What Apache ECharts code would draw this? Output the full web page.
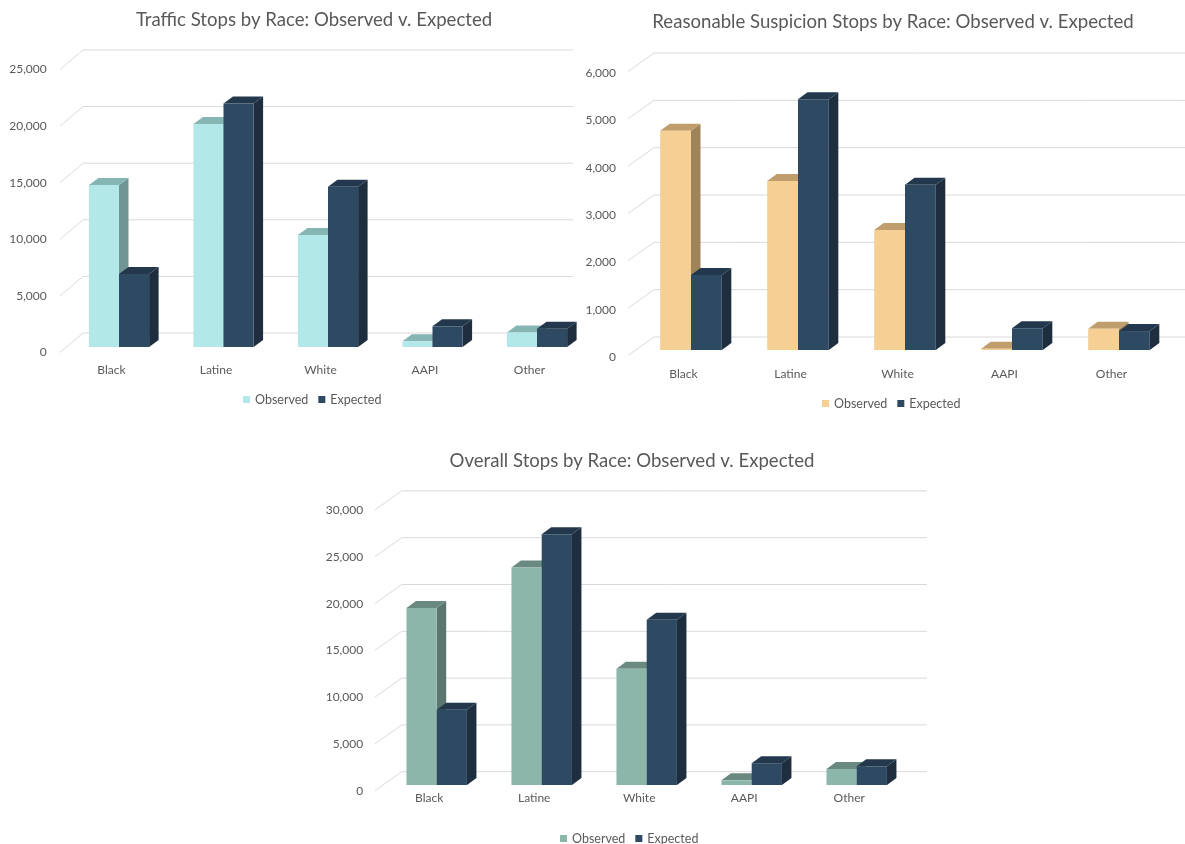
<!DOCTYPE html>
<html>
<head>
<meta charset="utf-8">
<title>Stops by Race: Observed v. Expected</title>
<script src="https://cdn.jsdelivr.net/npm/echarts@6/dist/echarts.min.js"></script>
<style>
  html, body { margin: 0; padding: 0; background: #ffffff; }
  body { width: 1185px; height: 844px; position: relative; overflow: hidden; }
  .chart { position: absolute; left: 0; top: 0; width: 1185px; height: 844px; }
</style>
</head>
<body>
<div id="traffic" class="chart"></div>
<div id="suspicion" class="chart"></div>
<div id="overall" class="chart"></div>
<script>
// ---- data ----
const categories = ['Black', 'Latine', 'White', 'AAPI', 'Other'];
const seriesNames = ['Observed', 'Expected'];

const trafficObserved = [14300, 19700, 9900, 500, 1270];
const trafficExpected = [6450, 21500, 14150, 1830, 1620];
const trafficTicks = [0, 5000, 10000, 15000, 20000, 25000];

const suspicionObserved = [4630, 3570, 2535, 25, 450];
const suspicionExpected = [1585, 5300, 3490, 460, 400];
const suspicionTicks = [0, 1000, 2000, 3000, 4000, 5000, 6000];

const overallObserved = [18900, 23250, 12430, 500, 1710];
const overallExpected = [8040, 26800, 17650, 2330, 2000];
const overallTicks = [0, 5000, 10000, 15000, 20000, 25000, 30000];

// ---- drawing ----
const TEXT = '#595959';
const GRID_LINE = '#d9d9d9';
const FONT = 'Lato';
const BAR_RATIO = 0.288;   // bar width as a share of the category band
const DEPTH_X = 9.5;       // 3D depth of the columns
const DEPTH_Y = 7;

const expectedFaces = { front: '#2e4a62', top: '#23384c', side: '#1e2e3e' };

// floor/back-wall lines: diagonal from the front label to the back wall, then along the wall
function wallSeries(ticks, wall) {
  return {
    type: 'custom',
    silent: true,
    z: 1,
    encode: { x: 0, y: 1 },
    data: ticks.map(t => [0, t]),
    renderItem: function (params, api) {
      const cs = params.coordSys;
      const y = api.coord([0, api.value(1)])[1];
      const frontX = cs.x + wall.frontDx;
      const backX = cs.x + wall.backDx;
      const rightX = cs.x + cs.width + wall.rightDx;
      const style = { stroke: GRID_LINE, lineWidth: 1, fill: null };
      return {
        type: 'group',
        children: [
          { type: 'line', shape: { x1: frontX, y1: y + wall.frontDy, x2: backX, y2: y + wall.backDy }, style: style },
          { type: 'line', shape: { x1: backX, y1: y + wall.backDy, x2: rightX, y2: y + wall.backDy }, style: style }
        ]
      };
    }
  };
}

// one 3D column per category: front face, top face and right side face
function barSeries(name, values, faces, slot) {
  return {
    type: 'custom',
    name: name,
    z: 2 + slot,
    encode: { x: 0, y: 1 },
    itemStyle: { color: faces.front },
    data: values.map((v, i) => [i, v]),
    renderItem: function (params, api) {
      const cat = api.value(0);
      const base = api.coord([cat, 0]);
      const top = api.coord([cat, api.value(1)]);
      const w = api.size([1, 0])[0] * BAR_RATIO;
      const x0 = slot === 0 ? base[0] - w : base[0];
      const x1 = x0 + w;
      const yb = base[1];
      const yt = top[1];
      return {
        type: 'group',
        children: [
          { type: 'polygon', shape: { points: [[x1, yt], [x1 + DEPTH_X, yt - DEPTH_Y], [x1 + DEPTH_X, yb - DEPTH_Y], [x1, yb]] },
            style: { fill: faces.side } },
          { type: 'polygon', shape: { points: [[x0, yt], [x0 + DEPTH_X, yt - DEPTH_Y], [x1 + DEPTH_X, yt - DEPTH_Y], [x1, yt]] },
            style: { fill: faces.top } },
          { type: 'rect', shape: { x: x0, y: yt, width: w, height: yb - yt },
            style: { fill: faces.front } }
        ]
      };
    }
  };
}

function buildOption(c) {
  return {
    animation: false,
    textStyle: { fontFamily: FONT },
    title: {
      text: c.title,
      left: c.titleX, top: c.titleTop, textAlign: 'center',
      textStyle: { fontFamily: FONT, fontSize: 18.6, fontWeight: 'normal', color: TEXT }
    },
    legend: {
      data: seriesNames,
      left: c.legendLeft, top: c.legendTop, padding: 0,
      icon: 'rect', itemWidth: 7, itemHeight: 7, itemGap: 10,
      selectedMode: false,
      textStyle: { fontFamily: FONT, fontSize: 12.5, color: TEXT }
    },
    grid: { left: c.grid.left, top: c.grid.top, width: c.grid.width, height: c.grid.height },
    xAxis: {
      type: 'category',
      data: categories,
      axisLine: { show: false }, axisTick: { show: false }, splitLine: { show: false },
      axisLabel: { margin: c.xLabelMargin, padding: [0, 15, 0, 0], color: TEXT, fontFamily: FONT, fontSize: 12 }
    },
    yAxis: {
      type: 'value',
      min: 0, max: c.ticks[c.ticks.length - 1], interval: c.ticks[1] - c.ticks[0],
      axisLine: { show: false }, axisTick: { show: false }, splitLine: { show: false },
      axisLabel: {
        margin: c.yLabelMargin,
        verticalAlign: 'top', lineHeight: c.yLabelLine,
        color: TEXT, fontFamily: FONT, fontSize: 12,
        formatter: v => v.toLocaleString('en-US')
      }
    },
    series: [
      wallSeries(c.ticks, c.wall),
      barSeries(seriesNames[0], c.observed, c.observedFaces, 0),
      barSeries(seriesNames[1], c.expected, expectedFaces, 1)
    ]
  };
}

const charts = [
  {
    el: 'traffic',
    title: 'Traffic Stops by Race: Observed v. Expected',
    titleX: 309, titleTop: 5,
    legendLeft: 243, legendTop: 393,
    grid: { left: 66.75, top: 64, width: 522.5, height: 283 },
    wall: { frontDx: -6.75, frontDy: 5.5, backDx: 16.25, backDy: -14, rightDx: -16.25 },
    xLabelMargin: 17, yLabelMargin: 20, yLabelLine: 11,
    ticks: trafficTicks,
    observed: trafficObserved, expected: trafficExpected,
    observedFaces: { front: '#b2e9e8', top: '#86b6b4', side: '#6f9595' }
  },
  {
    el: 'suspicion',
    title: 'Reasonable Suspicion Stops by Race: Observed v. Expected',
    titleX: 888, titleTop: 7,
    legendLeft: 822, legendTop: 397,
    grid: { left: 637.5, top: 66, width: 535, height: 284 },
    wall: { frontDx: -9.5, frontDy: 5.5, backDx: 16.5, backDy: -13, rightDx: 12.5 },
    xLabelMargin: 18, yLabelMargin: 21.5, yLabelLine: 14,
    ticks: suspicionTicks,
    observed: suspicionObserved, expected: suspicionExpected,
    observedFaces: { front: '#f5cf93', top: '#bf9d6c', side: '#9f8459' }
  },
  {
    el: 'overall',
    title: 'Overall Stops by Race: Observed v. Expected',
    titleX: 627, titleTop: 446,
    legendLeft: 560, legendTop: 832,
    grid: { left: 384.2, top: 504.2, width: 525, height: 280.8 },
    wall: { frontDx: -9.2, frontDy: 5.7, backDx: 17.5, backDy: -13.3, rightDx: 17.8 },
    xLabelMargin: 7, yLabelMargin: 21, yLabelLine: 12,
    ticks: overallTicks,
    observed: overallObserved, expected: overallExpected,
    observedFaces: { front: '#8db6ab', top: '#6a8a81', side: '#5a766e' }
  }
];

charts.forEach(c => {
  const chart = echarts.init(document.getElementById(c.el), null, { renderer: 'canvas' });
  chart.setOption(buildOption(c));
});
</script>
</body>
</html>
